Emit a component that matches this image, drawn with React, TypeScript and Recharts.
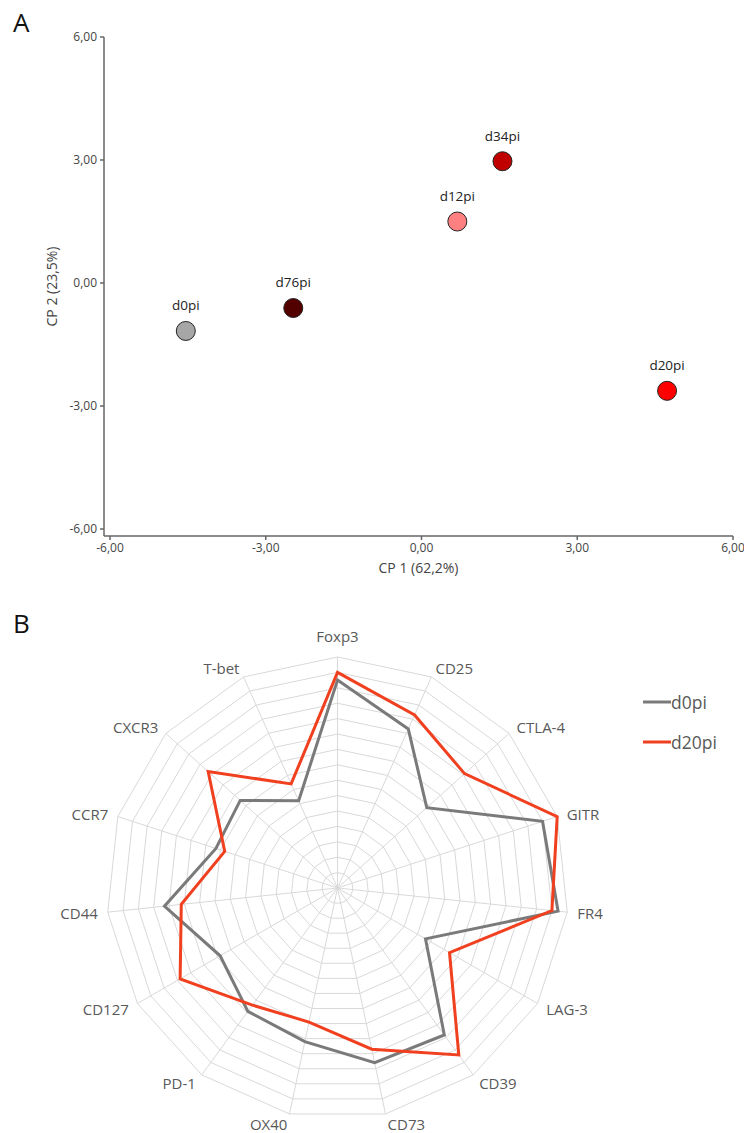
import React from "react";
import {
  ScatterChart,
  Scatter,
  XAxis,
  YAxis,
  Cell,
  LabelList,
  Label,
  RadarChart,
  Radar,
  PolarGrid,
  PolarAngleAxis,
  PolarRadiusAxis,
  Legend,
} from "recharts";

// Panel A: PCA scores
const samples = ["d0pi", "d76pi", "d12pi", "d34pi", "d20pi"];
const cp1 = [-4.54, -2.47, 0.69, 1.56, 4.73];
const cp2 = [-1.17, -0.61, 1.5, 2.97, -2.63];
const pcaTicks = [-6, -3, 0, 3, 6];

// Panel B: marker profile
const markers = [
  "Foxp3", "CD25", "CTLA-4", "GITR", "FR4", "LAG-3", "CD39", "CD73",
  "OX40", "PD-1", "CD127", "CD44", "CCR7", "CXCR3", "T-bet",
];
const d0pi = [1.35, 1.13, 0.78, 1.4, 1.44, 0.66, 1.18, 1.16, 1.02, 0.99, 0.88, 1.13, 0.83, 0.85, 0.62];
const d20pi = [1.4, 1.23, 1.11, 1.5, 1.4, 0.84, 1.34, 1.07, 0.89, 0.94, 1.18, 1.02, 0.77, 1.13, 0.74];
const radarTicks = [0, 0.1, 0.2, 0.3, 0.4, 0.5, 0.6, 0.7, 0.8, 0.9, 1.0, 1.1, 1.2, 1.3, 1.4, 1.5];

const pointColors = ["#a6a6a6", "#520000", "#ff8080", "#c00000", "#ff0000"];
const seriesColors: Record<string, string> = { d0pi: "#7a7a7a", d20pi: "#f0401f" };

const FONT = "'Open Sans', 'DejaVu Sans', sans-serif";
const RADAR_TOP = 590;
const RADAR_CX = 337.5;
const RADAR_CY = 298;
const RADAR_R = 231;

const pcaData = samples.map((name, i) => ({ name, x: cp1[i], y: cp2[i] }));
const radarData = markers.map((m, i) => ({ marker: m, d0pi: d0pi[i], d20pi: d20pi[i] }));

const fmt = (v: number) => v.toFixed(2).replace(".", ",");

function Dot(props: any) {
  const { cx, cy, fill } = props;
  return <circle cx={cx} cy={cy} r={9.5} fill={fill} stroke="#222" strokeWidth={1} />;
}

function MarkerTick(props: any) {
  const { x, y, payload } = props;
  const dx = x - RADAR_CX;
  const dy = y - RADAR_CY;
  const len = Math.hypot(dx, dy) || 1;
  const ux = dx / len;
  const uy = dy / len;
  const anchor = ux > 0.05 ? "start" : ux < -0.05 ? "end" : "middle";
  const r = anchor === "middle" ? RADAR_R + 21 : RADAR_R + 10;
  return (
    <text
      x={RADAR_CX + ux * r}
      y={RADAR_CY + uy * r}
      textAnchor={anchor}
      dominantBaseline="central"
      fill="#595959"
      fontSize={15}
    >
      {payload.value}
    </text>
  );
}

function RadarLegend(props: any) {
  const items = props.payload || [];
  return (
    <div>
      {items.map((entry: any) => (
        <div key={entry.value} style={{ display: "flex", alignItems: "center", height: 40 }}>
          <svg width={28} height={4}>
            <line x1={0} y1={2} x2={28} y2={2} stroke={seriesColors[entry.value]} strokeWidth={3} />
          </svg>
          <span style={{ fontSize: 17.5, color: "#595959", fontFamily: FONT }}>{entry.value}</span>
        </div>
      ))}
    </div>
  );
}

export default function App() {
  return (
    <div
      style={{
        position: "absolute",
        left: 0,
        top: 0,
        width: 744,
        height: 1133,
        background: "#fff",
        fontFamily: FONT,
      }}
    >
      <div style={{ position: "absolute", left: 0, top: 0 }}>
        <ScatterChart width={744} height={590} margin={{ top: 37, right: 11, left: 44, bottom: 14 }}>
          <XAxis
            type="number"
            dataKey="x"
            domain={[-6, 6]}
            ticks={pcaTicks}
            tickFormatter={fmt}
            padding={{ left: 6, right: 0 }}
            height={40}
            stroke="#666"
            strokeWidth={1.5}
            tickSize={4}
            tickMargin={3}
            tick={{ fill: "#444", fontSize: 12 }}
          >
            <Label value="CP 1 (62,2%)" position="insideBottom" offset={3} fontSize={14} style={{ fill: "#444" }} />
          </XAxis>
          <YAxis
            type="number"
            dataKey="y"
            domain={[-6, 6]}
            ticks={pcaTicks}
            tickFormatter={fmt}
            padding={{ top: 0, bottom: 7 }}
            width={60}
            stroke="#666"
            strokeWidth={1.5}
            tickSize={4}
            tickMargin={3}
            tick={{ fill: "#444", fontSize: 12 }}
          >
            <Label
              value="CP 2 (23,5%)"
              angle={-90}
              position="insideLeft"
              offset={8}
              fontSize={14}
              style={{ textAnchor: "middle", fill: "#444" }}
            />
          </YAxis>
          <Scatter data={pcaData} shape={<Dot />} isAnimationActive={false}>
            {pcaData.map((d, i) => (
              <Cell key={d.name} fill={pointColors[i]} />
            ))}
            <LabelList dataKey="name" position="top" offset={16} fill="#222" fontSize={13.5} />
          </Scatter>
        </ScatterChart>
      </div>

      <div style={{ position: "absolute", left: 0, top: RADAR_TOP }}>
        <RadarChart
          width={744}
          height={543}
          data={radarData}
          cx={RADAR_CX}
          cy={RADAR_CY}
          outerRadius={RADAR_R}
          margin={{ top: 0, right: 0, bottom: 0, left: 0 }}
        >
          <PolarGrid stroke="#d9d9d9" />
          <PolarAngleAxis dataKey="marker" axisLine={false} tickLine={false} tick={(p: any) => <MarkerTick {...p} />} />
          <PolarRadiusAxis
            type="number"
            angle={90}
            domain={[0, 1.5]}
            ticks={radarTicks}
            tickCount={16}
            allowDecimals
            allowDataOverflow
            tick={false}
            axisLine={false}
          />
          <Radar
            name="d0pi"
            dataKey="d0pi"
            stroke={seriesColors.d0pi}
            strokeWidth={3}
            fill="none"
            fillOpacity={0}
            dot={false}
            isAnimationActive={false}
          />
          <Radar
            name="d20pi"
            dataKey="d20pi"
            stroke={seriesColors.d20pi}
            strokeWidth={3}
            fill="none"
            fillOpacity={0}
            dot={false}
            isAnimationActive={false}
          />
          <Legend
            layout="vertical"
            verticalAlign="top"
            align="right"
            content={<RadarLegend />}
            wrapperStyle={{ left: 643, right: "auto", top: 92, width: 100 }}
          />
        </RadarChart>
      </div>

      <svg
        width={744}
        height={1133}
        style={{ position: "absolute", left: 0, top: 0, pointerEvents: "none" }}
      >
        <text x={13} y={32} fontSize={26} fill="#111">A</text>
        <text x={13} y={633} fontSize={26} fill="#111">B</text>
      </svg>
    </div>
  );
}
